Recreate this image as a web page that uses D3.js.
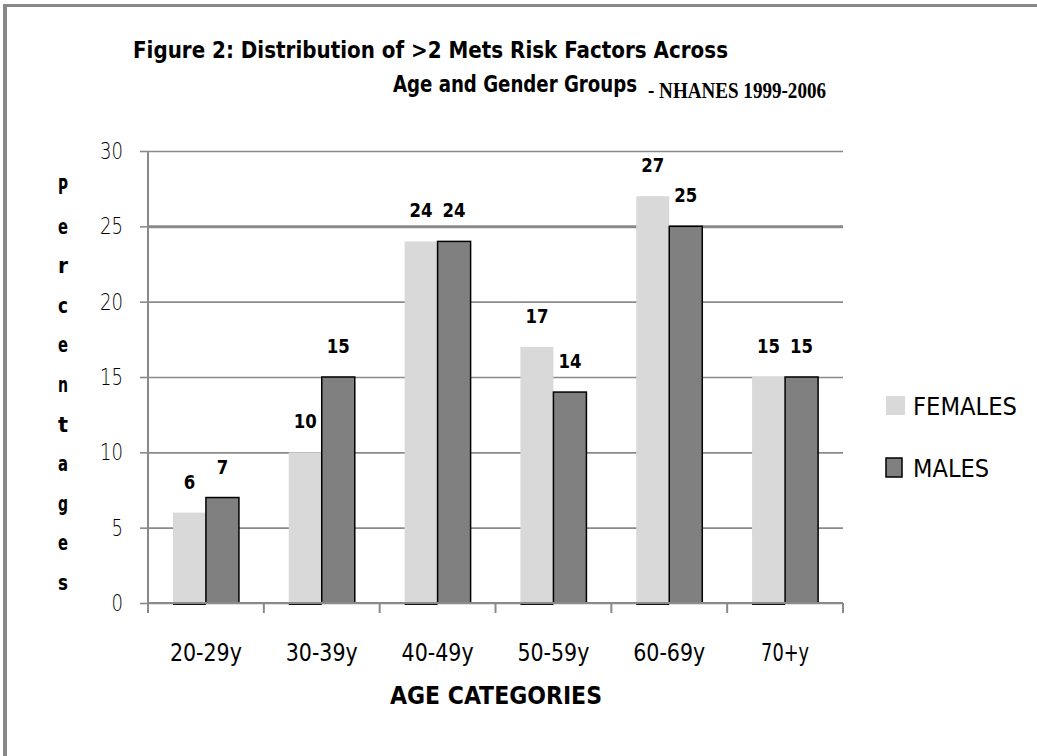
<!DOCTYPE html>
<html>
<head>
<meta charset="utf-8">
<script src="https://cdn.jsdelivr.net/npm/d3@7"></script>
<style>
  body { margin: 0; background: #fff; }
  svg { display: block; }
  .cond { font-family: "DejaVu Sans Condensed", "Liberation Sans Narrow", "Open Sans", sans-serif; }
</style>
</head>
<body>
<svg id="chart" width="1037" height="756"></svg>
<script>
var ageGroups = ["20-29y", "30-39y", "40-49y", "50-59y", "60-69y", "70+y"];
var seriesNames = ["FEMALES", "MALES"];
var females = [6, 10, 24, 17, 27, 15];
var males = [7, 15, 24, 14, 25, 15];
var yTicks = [0, 5, 10, 15, 20, 25, 30];

var data = ageGroups.map(function(a, i) {
  return {age: a, FEMALES: females[i], MALES: males[i]};
});

var svg = d3.select("svg#chart"),
    plot = {left: 148, right: 843, top: 151, bottom: 603};

// squeeze text to a narrow face (no condensed font installed)
function narrow(sel, perChar) {
  sel.attr("textLength", function() { return this.textContent.length * perChar; })
     .attr("lengthAdjust", "spacingAndGlyphs");
}

var x0 = d3.scaleBand()
    .domain(ageGroups)
    .range([plot.left, plot.right])
    .paddingInner(0.43)
    .paddingOuter(0.215);

var x1 = d3.scaleBand()
    .domain(seriesNames)
    .range([0, x0.bandwidth()]);

var y = d3.scaleLinear()
    .domain([0, 30])
    .range([plot.bottom, plot.top]);

var color = d3.scaleOrdinal()
    .domain(seriesNames)
    .range(["#d9d9d9", "#808080"]);

// page frame
svg.append("line").attr("x1", 3).attr("x2", 1037).attr("y1", 5.5).attr("y2", 5.5)
    .attr("stroke", "#888").attr("stroke-width", 3);
svg.append("line").attr("x1", 5).attr("x2", 5).attr("y1", 4).attr("y2", 756)
    .attr("stroke", "#888").attr("stroke-width", 4);

// gridlines
svg.append("g")
    .attr("transform", "translate(" + plot.left + ",0)")
    .call(d3.axisLeft(y).tickValues(yTicks).tickSize(-(plot.right - plot.left)).tickFormat(""))
    .call(function(g) { g.select(".domain").remove(); })
    .selectAll("line")
      .attr("stroke", "#8a8a8a")
      .attr("stroke-width", function(d) { return d === 25 ? 3 : 1.6; });

// y axis
var yAxis = svg.append("g")
    .attr("transform", "translate(" + plot.left + ",0)")
    .call(d3.axisLeft(y).tickValues(yTicks).tickSize(8).tickSizeOuter(0).tickPadding(17));
yAxis.select(".domain").remove();
yAxis.selectAll("line").attr("stroke", "#8a8a8a").attr("stroke-width", 1.6);
yAxis.selectAll("text")
    .attr("font-size", 23)
    .attr("fill", "#000")
    .attr("font-family", "DejaVu Sans, sans-serif")
    .attr("font-weight", 300)
    .call(narrow, 11.5);
svg.append("line")
    .attr("x1", plot.left).attr("x2", plot.left)
    .attr("y1", plot.top).attr("y2", plot.bottom + 10)
    .attr("stroke", "#8a8a8a").attr("stroke-width", 2);

// bars
var groups = svg.append("g")
  .selectAll("g")
  .data(data)
  .enter().append("g")
    .attr("transform", function(d) { return "translate(" + x0(d.age) + ",0)"; });

groups.selectAll("rect")
  .data(function(d) { return seriesNames.map(function(k) { return {key: k, value: d[k]}; }); })
  .enter().append("rect")
    .attr("x", function(d) { return x1(d.key); })
    .attr("y", function(d) { return y(d.value); })
    .attr("width", x1.bandwidth())
    .attr("height", function(d) { return y(0) - y(d.value); })
    .attr("fill", function(d) { return color(d.key); })
    .attr("stroke", function(d) { return d.key === "MALES" ? "#000" : "none"; })
    .attr("stroke-width", 1.5);

// dark base mark under the female bars
groups.append("rect")
    .attr("x", x1("FEMALES"))
    .attr("y", y(0) - 1)
    .attr("width", x1.bandwidth())
    .attr("height", 3)
    .attr("fill", "#111");

groups.selectAll("text.value")
  .data(function(d) { return seriesNames.map(function(k) { return {key: k, value: d[k]}; }); })
  .enter().append("text")
    .attr("class", "value cond")
    .attr("x", function(d) { return x1(d.key) + x1.bandwidth() / 2; })
    .attr("y", function(d) { return y(d.value) - 24; })
    .attr("text-anchor", "middle")
    .attr("font-size", 20)
    .attr("font-weight", "bold")
    .text(function(d) { return d.value; })
    .call(narrow, 11.5);

// x axis ticks
var xEdges = ageGroups.map(function(a) { return x0(a) - x0.step() * x0.paddingOuter(); });
xEdges.push(plot.right);
svg.append("g").selectAll("line")
  .data(xEdges)
  .enter().append("line")
    .attr("x1", function(d) { return d; })
    .attr("x2", function(d) { return d; })
    .attr("y1", plot.bottom)
    .attr("y2", plot.bottom + 10)
    .attr("stroke", "#8a8a8a")
    .attr("stroke-width", 2);
svg.append("line")
    .attr("x1", plot.left).attr("x2", plot.right)
    .attr("y1", plot.bottom).attr("y2", plot.bottom)
    .attr("stroke", "#8a8a8a").attr("stroke-width", 2);

svg.append("g").selectAll("text")
  .data(ageGroups)
  .enter().append("text")
    .attr("class", "cond")
    .attr("x", function(d) { return x0(d) + x0.bandwidth() / 2; })
    .attr("y", 661)
    .attr("text-anchor", "middle")
    .attr("font-size", 24)
    .attr("font-weight", 300)
    .text(function(d) { return d; })
    .call(narrow, 12);

// axis titles
svg.append("text")
    .attr("class", "cond")
    .attr("x", 496)
    .attr("y", 704)
    .attr("text-anchor", "middle")
    .attr("font-size", 24)
    .attr("font-weight", "bold")
    .attr("textLength", 212)
    .attr("lengthAdjust", "spacingAndGlyphs")
    .text("AGE  CATEGORIES");

svg.append("g").selectAll("text")
  .data("percentages".split(""))
  .enter().append("text")
    .attr("class", "cond")
    .attr("x", 63)
    .attr("y", function(d, i) { return 194 + i * 39.6; })
    .attr("text-anchor", "middle")
    .attr("font-size", 21)
    .attr("font-weight", "bold")
    .text(function(d, i) { return i === 0 ? "P" : d; })
    .call(narrow, 10);

// titles
svg.append("text")
    .attr("class", "cond")
    .attr("x", 133).attr("y", 58)
    .attr("font-size", 23).attr("font-weight", "bold")
    .attr("textLength", 595).attr("lengthAdjust", "spacingAndGlyphs")
    .text("Figure 2: Distribution of >2 Mets Risk Factors Across");
svg.append("text")
    .attr("class", "cond")
    .attr("x", 393).attr("y", 92)
    .attr("font-size", 23).attr("font-weight", "bold")
    .attr("textLength", 244).attr("lengthAdjust", "spacingAndGlyphs")
    .text("Age and Gender Groups");
svg.append("text")
    .attr("x", 648).attr("y", 98)
    .attr("font-family", "Liberation Serif, Times New Roman, serif")
    .attr("font-size", 23).attr("font-weight", "bold")
    .attr("textLength", 178).attr("lengthAdjust", "spacingAndGlyphs")
    .text("- NHANES 1999-2006");

// legend
var legend = svg.append("g")
  .selectAll("g")
  .data(seriesNames)
  .enter().append("g")
    .attr("transform", function(d, i) { return "translate(886," + (396 + i * 62) + ")"; });

legend.append("rect")
    .attr("width", function(d) { return d === "MALES" ? 16 : 19; })
    .attr("height", 19)
    .attr("fill", function(d) { return color(d); })
    .attr("stroke", function(d) { return d === "MALES" ? "#000" : "none"; })
    .attr("stroke-width", 1.5);

legend.append("text")
    .attr("class", "cond")
    .attr("x", 27)
    .attr("y", 19)
    .attr("font-size", 25)
    .attr("font-weight", 300)
    .attr("textLength", function(d) { return d === "MALES" ? 76 : 104; })
    .attr("lengthAdjust", "spacingAndGlyphs")
    .text(function(d) { return d; });
</script>
</body>
</html>
